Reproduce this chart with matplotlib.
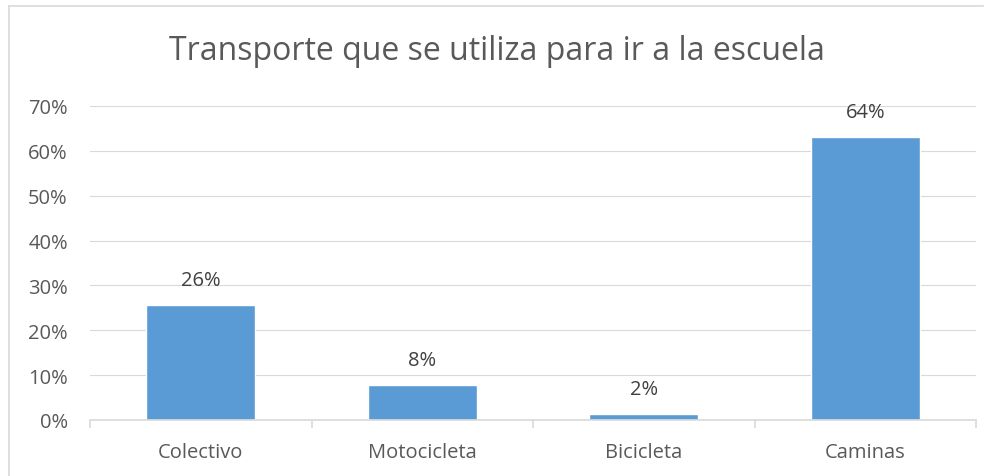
import matplotlib
matplotlib.use("Agg")
import matplotlib.pyplot as plt
from matplotlib.lines import Line2D
from matplotlib.ticker import FuncFormatter, MultipleLocator, FixedLocator

categories = ["Colectivo", "Motocicleta", "Bicicleta", "Caminas"]
values = [25.7, 7.9, 1.4, 63.2]
value_labels = ["26%", "8%", "2%", "64%"]
title = "Transporte que se utiliza para ir a la escuela"

FONT = ["Open Sans", "DejaVu Sans"]
TXT = "#595959"
GRID = "#D9D9D9"
BAR = "#5B9BD5"

plt.rcParams["font.family"] = FONT

fig = plt.figure(figsize=(9.93, 4.77), dpi=100)
ax = fig.add_axes([90/993, 1-421/477, (976-90)/993, (421-107)/477])

x = list(range(len(categories)))
bars = ax.bar(x, values, width=0.49, color=BAR, edgecolor="white", linewidth=1.0, zorder=2)

ax.set_xlim(-0.5, len(categories)-0.5)
ax.set_ylim(0, 70)
ax.yaxis.set_major_locator(MultipleLocator(10))
ax.yaxis.set_major_formatter(FuncFormatter(lambda v, p: f"{v:.0f}%"))
ax.grid(axis="y", color=GRID, linewidth=0.8, zorder=0)
ax.set_axisbelow(True)

for s in ["top", "right", "left"]:
    ax.spines[s].set_visible(False)
ax.spines["bottom"].set_color(GRID)
ax.spines["bottom"].set_linewidth(1.2)

ax.set_xticks(x)
ax.set_xticklabels(categories)
ax.xaxis.set_minor_locator(FixedLocator([i - 0.5 for i in range(len(categories)+1)]))
ax.tick_params(axis="x", which="major", length=0, pad=16, labelsize=14.5, labelcolor=TXT)
ax.tick_params(axis="x", which="minor", length=6, width=1.2, color=GRID, direction="out")
ax.tick_params(axis="y", length=0, pad=16, labelsize=14.5, labelcolor=TXT)

for xi, v, lab in zip(x, values, value_labels):
    ax.annotate(lab, (xi, v), xytext=(0, 14.4), textcoords="offset points",
                ha="center", va="baseline", fontsize=14.5, color="#404040")

fig.text(0.5, 1-52/477, title, ha="center", va="center", fontsize=23, color=TXT)

fig.add_artist(Line2D([9/993, 983/993], [1-7/477, 1-7/477], color=GRID, linewidth=1.2))
fig.add_artist(Line2D([9/993, 9/993], [0, 1-7/477], color=GRID, linewidth=1.2))

fig.savefig("out.png", dpi=100)
